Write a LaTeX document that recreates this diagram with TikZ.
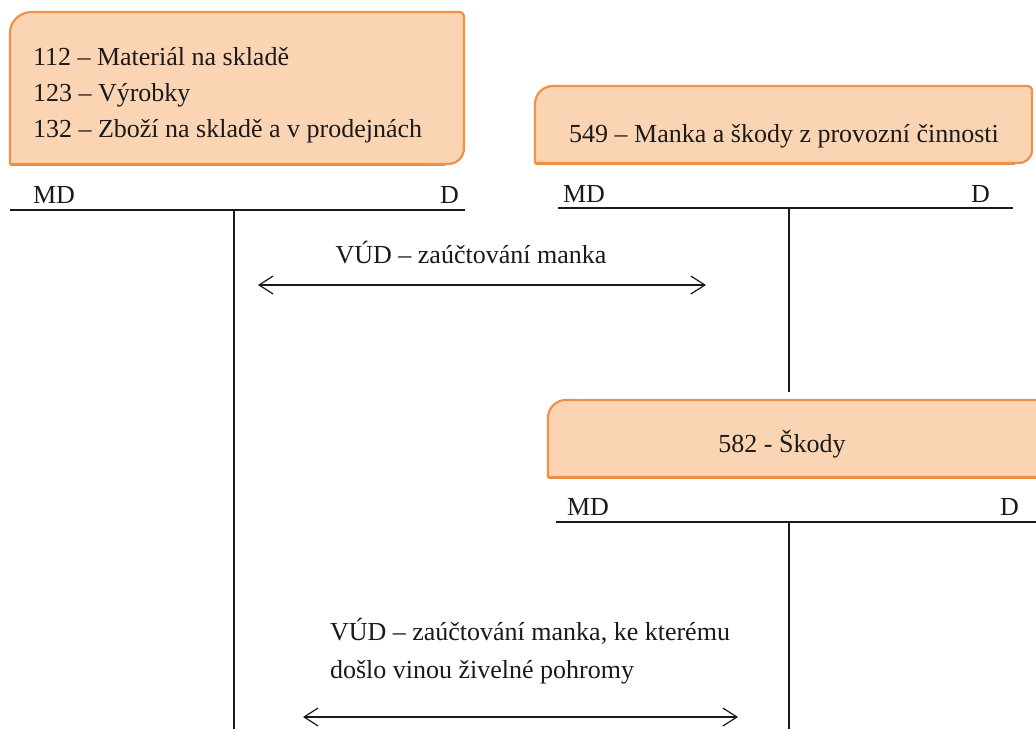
\documentclass[tikz,border=0pt]{standalone}
\usepackage{fontspec}
\setmainfont{Liberation Serif}
\usetikzlibrary{arrows.meta}
\definecolor{boxfill}{HTML}{FBD4B4}
\definecolor{boxline}{HTML}{F0914A}
\definecolor{boxshade}{HTML}{E8873F}
\definecolor{ink}{HTML}{1A1A1A}
\begin{document}
\begin{tikzpicture}[x=1pt,y=-1pt,
  acct/.style={fill=boxfill,draw=boxline,line width=2.2pt,line join=round},
  shade/.style={draw=boxshade,line width=2.6pt,line join=round},
  tline/.style={draw=ink,line width=1.3pt},
  txt/.style={inner sep=0pt,outer sep=0pt,text=ink,font=\fontsize{26}{36}\selectfont},
  posting/.style={draw=ink,line width=1.2pt,{Straight Barb[length=14pt,width=18pt,line width=1.2pt]}-{Straight Barb[length=14pt,width=18pt,line width=1.2pt]}}]
\useasboundingbox (0,0) rectangle (1036,729);
\clip (0,0) rectangle (1036,729);
\fill[white] (0,0) rectangle (1036,729);

% account headers: rounded top-left and bottom-right corners, darker left/bottom edge
\draw[shade] (11,40) -- (11,165) -- (445,165);
\path[acct] (10,164) -- (10,33) .. controls (10,21) and (20,12) .. (32,12)
  -- (460,12) .. controls (462,12) and (464,14) .. (464,16)
  -- (464,148) .. controls (464,157) and (457,164) .. (448,164) -- cycle;
\draw[shade] (536,110) -- (536,164) -- (1015,164);
\path[acct] (535,163) -- (535,104) .. controls (535,94) and (543,86) .. (553,86)
  -- (1028,86) .. controls (1030,86) and (1032,88) .. (1032,90)
  -- (1032,150) .. controls (1032,158) and (1026,163) .. (1018,163) -- cycle;
\draw[shade] (549,420) -- (549,478) -- (1036,478);
\path[acct] (548,477) -- (548,418) .. controls (548,408) and (556,400) .. (566,400)
  -- (1050,400) -- (1050,477) -- cycle;

% header texts
\node[txt,anchor=base west] (t112) at (33,65) {112 – Materiál na skladě};
\node[txt,anchor=base west] (t123) at (33,101) {123 – Výrobky};
\node[txt,anchor=base west] (t132) at (33,137) {132 – Zboží na skladě a v prodejnách};
\node[txt,anchor=base] (t549) at (784,142) {549 – Manka a škody z provozní činnosti};
\node[txt,anchor=base] (t582) at (782,452) {582 - Škody};

% T-account 1
\coordinate (a1l) at (10,210);
\coordinate (a1r) at (465,210);
\coordinate (a1t) at (234,210);
\coordinate (a1b) at (234,729);
\node[txt,anchor=base west] (md1) at (33,203) {MD};
\node[txt,anchor=base east] (d1) at (459,203) {D};
\draw[tline] (a1l) -- (a1r);
\draw[tline] (a1t) -- (a1b);

% T-account 2
\coordinate (a2l) at (558,208);
\coordinate (a2r) at (1013,208);
\coordinate (a2t) at (789,208);
\coordinate (a2b) at (789,392);
\node[txt,anchor=base west] (md2) at (563,202) {MD};
\node[txt,anchor=base east] (d2) at (990,202) {D};
\draw[tline] (a2l) -- (a2r);
\draw[tline] (a2t) -- (a2b);

% T-account 3
\coordinate (a3l) at (556,522);
\coordinate (a3r) at (1036,522);
\coordinate (a3t) at (789,522);
\coordinate (a3b) at (789,729);
\node[txt,anchor=base west] (md3) at (567,515) {MD};
\node[txt,anchor=base east] (d3) at (1019,515) {D};
\draw[tline] (a3l) -- (a3r);
\draw[tline] (a3t) -- (a3b);

% postings
\coordinate (p1l) at (258,285);
\coordinate (p1r) at (706,285);
\draw[posting] (p1l) -- (p1r);
\node[txt,anchor=base] (v1) at (471,263) {VÚD – zaúčtování manka};

\coordinate (p2l) at (303,717);
\coordinate (p2r) at (738,717);
\draw[posting] (p2l) -- (p2r);
\node[txt,anchor=base west] (v2a) at (330,640) {VÚD – zaúčtování manka, ke kterému};
\node[txt,anchor=base west] (v2b) at (330,678) {došlo vinou živelné pohromy};
\end{tikzpicture}
\end{document}
